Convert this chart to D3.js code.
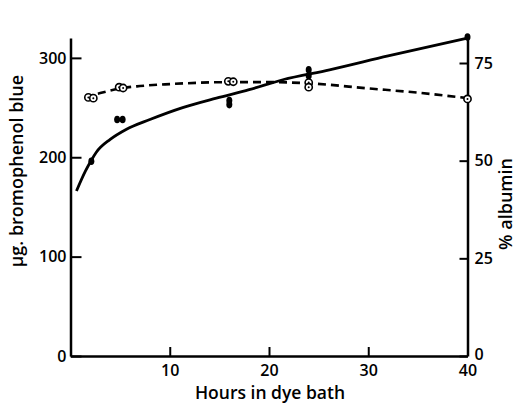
<!DOCTYPE html>
<html><head><meta charset="utf-8">
<script src="https://cdn.jsdelivr.net/npm/d3@7"></script>
<style>body{margin:0;background:#fff}svg{display:block}</style>
</head><body><svg id="c" width="516" height="404"></svg>
<script>
// Data
const xTicks = [10, 20, 30, 40];
const leftTicks = [0, 100, 200, 300];
const rightTicks = [0, 25, 50, 75];
// Solid curve: µg bromophenol blue (fitted line)
const dyeCurveX = [0.6, 1.5, 2.1, 2.6, 4, 5.6, 8, 11.3, 14.7, 18, 21.4, 26.1, 32, 40];
const dyeCurveY = [166, 186, 197, 205, 218, 228, 238, 250, 259.5, 268, 278, 288, 302, 320];
// Filled dots: µg bromophenol blue
const dyePointsX = [2.1, 4.7, 5.25, 16, 16, 24, 24, 40];
const dyePointsY = [196, 238, 238, 257, 253, 288, 282, 321];
// Dashed curve: % albumin
const albCurveX = [1.5, 3, 5, 7, 10, 16, 20, 24, 30, 35, 40];
const albCurveY = [66.2, 67.3, 68.5, 69.1, 69.6, 70.1, 70.1, 69.8, 68.5, 67.4, 66];
// Open circles: % albumin
const albPointsX = [1.8, 2.3, 4.9, 5.3, 15.9, 16.4, 24, 24, 40];
const albPointsY = [66.2, 66.0, 68.8, 68.6, 70.3, 70.2, 70.0, 68.8, 65.8];

const svg = d3.select("#c");
const x = d3.scaleLinear().domain([0, 40]).range([70.5, 467.5]);
const yL = d3.scaleLinear().domain([0, 320]).range([356, 38]);
const yR = d3.scaleLinear().domain([0, 81.4]).range([356, 38]);
const font = "'Open Sans', sans-serif";

function styleAxis(g) {
  g.select(".domain").attr("stroke", "#000").attr("stroke-width", 2.5);
  g.selectAll(".tick line").attr("stroke", "#000").attr("stroke-width", 2);
  g.selectAll(".tick text").attr("font-family", font).attr("font-size", 16)
    .attr("font-weight", 600).attr("fill", "#000");
}

svg.append("g").attr("transform", "translate(0,356)")
  .call(d3.axisBottom(x).tickValues(xTicks).tickSizeInner(-9).tickSizeOuter(0).tickPadding(9))
  .call(styleAxis);
svg.append("g").attr("transform", "translate(70.5,0)")
  .call(d3.axisLeft(yL).tickValues(leftTicks).tickSizeInner(-11).tickSizeOuter(0).tickPadding(5))
  .call(styleAxis)
  .call(g => g.selectAll(".tick text").attr("x", -4));
svg.append("g").attr("transform", "translate(467.5,0)")
  .call(d3.axisRight(yR).tickValues(rightTicks).tickSizeInner(-8).tickSizeOuter(0))
  .call(styleAxis)
  .call(g => g.selectAll(".tick text").attr("x", 7))
  .call(g => g.selectAll(".tick").filter(d => d === 0).select("text").attr("dy", "0.2em"));

// Curves
const dyeLine = d3.line().x(d => x(d[0])).y(d => yL(d[1])).curve(d3.curveMonotoneX);
svg.append("path").datum(dyeCurveX.map((v, i) => [v, dyeCurveY[i]]))
  .attr("d", dyeLine).attr("fill", "none").attr("stroke", "#000").attr("stroke-width", 2.8);
const albLine = d3.line().x(d => x(d[0])).y(d => yR(d[1])).curve(d3.curveMonotoneX);
svg.append("path").datum(albCurveX.map((v, i) => [v, albCurveY[i]]))
  .attr("d", albLine).attr("fill", "none").attr("stroke", "#000").attr("stroke-width", 2.6)
  .attr("stroke-dasharray", "8,5");

// Points
svg.append("g").selectAll("ellipse").data(dyePointsX.map((v, i) => [v, dyePointsY[i]]))
  .join("ellipse").attr("cx", d => x(d[0])).attr("cy", d => yL(d[1]))
  .attr("rx", 3).attr("ry", 3.8).attr("fill", "#000");
const ap = svg.append("g").selectAll("g").data(albPointsX.map((v, i) => [v, albPointsY[i]]))
  .join("g").attr("transform", d => `translate(${x(d[0])},${yR(d[1])})`);
ap.append("circle").attr("r", 3.6).attr("fill", "#fff").attr("stroke", "#000").attr("stroke-width", 1.6);
ap.append("circle").attr("r", 1).attr("fill", "#000");

// Axis titles
svg.append("text").attr("x", 270).attr("y", 399).attr("text-anchor", "middle")
  .attr("font-family", font).attr("font-size", 17.5).attr("font-weight", 600).text("Hours in dye bath");
svg.append("text").attr("transform", "translate(23,171) rotate(-90)").attr("text-anchor", "middle")
  .attr("font-family", font).attr("font-size", 18).attr("font-weight", 600).text("μg. bromophenol blue");
svg.append("text").attr("transform", "translate(512,204) rotate(-90)").attr("text-anchor", "middle")
  .attr("font-family", font).attr("font-size", 18).attr("font-weight", 600).text("% albumin");
</script></body></html>
